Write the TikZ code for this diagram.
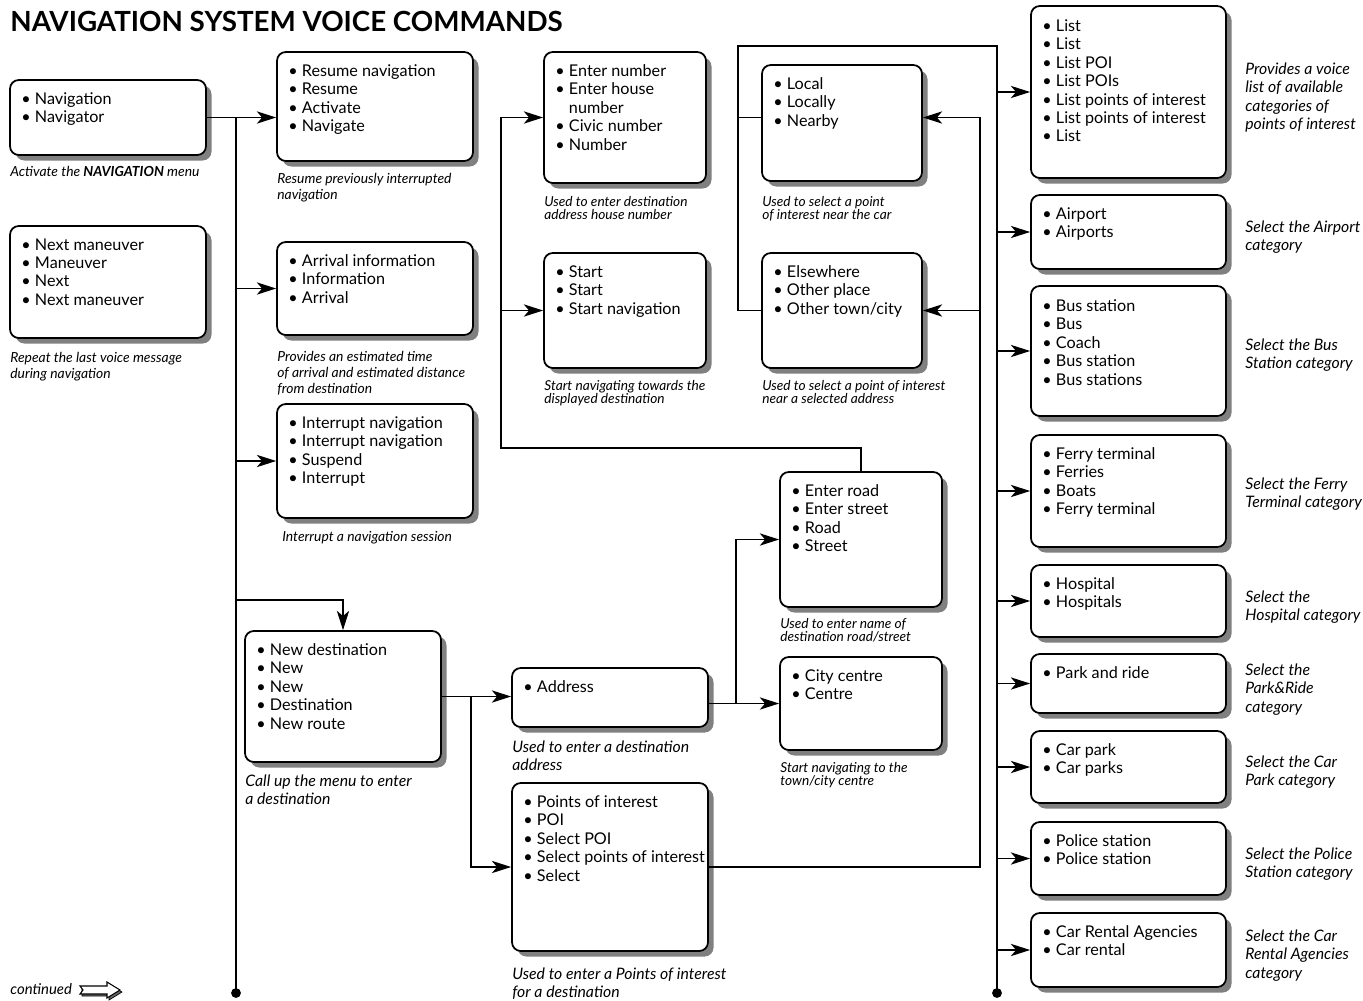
\documentclass[tikz,border=0pt]{standalone}
\usepackage{fontspec}
\setmainfont{Lato}
\usetikzlibrary{arrows.meta,shadows,fit}
\newcommand{\itm}{\textbullet~}

\begin{document}
\begin{tikzpicture}[x=0.02cm, y=-0.02cm,
	box/.style={draw, line width=1pt, rounded corners=5pt, fill=white, inner sep=0pt,
		drop shadow={shadow xshift=0.11cm, shadow yshift=-0.11cm, fill=black!50, opacity=1}},
	items/.style={anchor=north west, inner sep=0pt, align=left, font=\fontsize{9.2}{10.5}\selectfont},
	note/.style={anchor=north west, inner sep=0pt, align=left, font=\fontsize{7.9}{9.1}\selectfont\itshape},
	tight/.style={note, font=\fontsize{7.8}{7.4}\selectfont\itshape},
	bignote/.style={note, font=\fontsize{9}{10.6}\selectfont\itshape},
	wire/.style={line width=0.7pt},
	arr/.style={wire, -{Stealth[length=11pt, width=7pt, inset=3pt]}}]
	\useasboundingbox (0, 0) rectangle (1363, 1001);

	\node [anchor=north west, inner sep=0pt, font=\fontsize{15.8}{18}\selectfont\bfseries] (title) at (10, 11) {NAVIGATION SYSTEM VOICE COMMANDS};

	% left column
	\node [box, fit={(10, 80) (206, 155)}] (nav) {};
	\node [items] (navtxt) at ([shift={(12, 13)}]nav.north west) {\itm Navigation\\\itm Navigator};
	\node [note] (navcap) at (10, 166) {Activate the \textbf{NAVIGATION} menu};
	\node [box, fit={(10, 226) (206, 338)}] (next) {};
	\node [items] (nexttxt) at ([shift={(12, 13)}]next.north west) {\itm Next maneuver\\\itm Maneuver\\\itm Next\\\itm Next maneuver};
	\node [note] (nextcap) at (10, 352) {Repeat the last voice message\\during navigation};

	% second column
	\node [box, fit={(277, 52) (473, 161)}] (resume) {};
	\node [items] (resumetxt) at ([shift={(12, 13)}]resume.north west) {\itm Resume navigation\\\itm Resume\\\itm Activate\\\itm Navigate};
	\node [note] (resumecap) at (277, 173) {Resume previously interrupted\\navigation};
	\node [box, fit={(277, 242) (473, 335)}] (arrival) {};
	\node [items] (arrivaltxt) at ([shift={(12, 13)}]arrival.north west) {\itm Arrival information\\\itm Information\\\itm Arrival};
	\node [note] (arrivalcap) at (277, 351) {Provides an estimated time\\of arrival and estimated distance\\from destination};
	\node [box, fit={(277, 404) (473, 518)}] (interrupt) {};
	\node [items] (interrupttxt) at ([shift={(12, 13)}]interrupt.north west) {\itm Interrupt navigation\\\itm Interrupt navigation\\\itm Suspend\\\itm Interrupt};
	\node [note] (interruptcap) at (282, 531) {Interrupt a navigation session};
	\node [box, fit={(245, 631) (441, 762)}] (newdest) {};
	\node [items] (newdesttxt) at ([shift={(12, 13)}]newdest.north west) {\itm New destination\\\itm New\\\itm New\\\itm Destination\\\itm New route};
	\node [bignote] (newdestcap) at (245, 774) {Call up the menu to enter\\a destination};

	% third column
	\node [box, fit={(544, 52) (706, 183)}] (enter) {};
	\node [items] (entertxt) at ([shift={(12, 13)}]enter.north west) {\itm Enter number\\\itm Enter house\\\phantom{\itm}number\\\itm Civic number\\\itm Number};
	\node [tight] (entercap) at (544, 196) {Used to enter destination\\address house number};
	\node [box, fit={(544, 253) (706, 368)}] (start) {};
	\node [items] (starttxt) at ([shift={(12, 13)}]start.north west) {\itm Start\\\itm Start\\\itm Start navigation};
	\node [tight] (startcap) at (544, 380) {Start navigating towards the\\displayed destination};
	\node [box, fit={(512, 668) (708, 727)}] (address) {};
	\node [items] (addresstxt) at ([shift={(12, 13)}]address.north west) {\itm Address};
	\node [bignote] (addresscap) at (512, 740) {Used to enter a destination\\address};
	\node [box, fit={(512, 783) (708, 951)}] (poi) {};
	\node [items] (poitxt) at ([shift={(12, 13)}]poi.north west) {\itm Points of interest\\\itm POI\\\itm Select POI\\\itm Select points of interest\\\itm Select};
	\node [bignote] (poicap) at (512, 967) {Used to enter a Points of interest\\for a destination};

	% fourth column
	\node [box, fit={(762, 65) (922, 181)}] (local) {};
	\node [items] (localtxt) at ([shift={(12, 13)}]local.north west) {\itm Local\\\itm Locally\\\itm Nearby};
	\node [tight] (localcap) at (762, 196) {Used to select a point\\of interest near the car};
	\node [box, fit={(762, 253) (922, 368)}] (elsewhere) {};
	\node [items] (elsewheretxt) at ([shift={(12, 13)}]elsewhere.north west) {\itm Elsewhere\\\itm Other place\\\itm Other town/city};
	\node [tight] (elsewherecap) at (762, 380) {Used to select a point of interest\\near a selected address};
	\node [box, fit={(780, 472) (942, 607)}] (road) {};
	\node [items] (roadtxt) at ([shift={(12, 13)}]road.north west) {\itm Enter road\\\itm Enter street\\\itm Road\\\itm Street};
	\node [tight] (roadcap) at (780, 618) {Used to enter name of\\destination road/street};
	\node [box, fit={(780, 657) (942, 750)}] (city) {};
	\node [items] (citytxt) at ([shift={(12, 13)}]city.north west) {\itm City centre\\\itm Centre};
	\node [tight] (citycap) at (780, 762) {Start navigating to the\\town/city centre};

	% categories
	\node [box, fit={(1031, 6) (1226, 178)}] (list) {};
	\node [items] (listtxt) at ([shift={(12, 14)}]list.north west) {\itm List\\\itm List\\\itm List POI\\\itm List POIs\\\itm List points of interest\\\itm List points of interest\\\itm List};
	\node [bignote] (listcap) at (1245, 62) {Provides a voice\\list of available\\categories of\\points of interest};
	\node [box, fit={(1031, 195) (1226, 269)}] (airport) {};
	\node [items] (airporttxt) at ([shift={(12, 13)}]airport.north west) {\itm Airport\\\itm Airports};
	\node [bignote] (airportcap) at (1245, 220) {Select the Airport\\category};
	\node [box, fit={(1031, 286) (1226, 416)}] (bus) {};
	\node [items] (bustxt) at ([shift={(12, 14)}]bus.north west) {\itm Bus station\\\itm Bus\\\itm Coach\\\itm Bus station\\\itm Bus stations};
	\node [bignote] (buscap) at (1245, 338) {Select the Bus\\Station category};
	\node [box, fit={(1031, 435) (1226, 547)}] (ferry) {};
	\node [items] (ferrytxt) at ([shift={(12, 13)}]ferry.north west) {\itm Ferry terminal\\\itm Ferries\\\itm Boats\\\itm Ferry terminal};
	\node [bignote] (ferrycap) at (1245, 477) {Select the Ferry\\Terminal category};
	\node [box, fit={(1031, 565) (1226, 637)}] (hospital) {};
	\node [items] (hospitaltxt) at ([shift={(12, 13)}]hospital.north west) {\itm Hospital\\\itm Hospitals};
	\node [bignote] (hospitalcap) at (1245, 590) {Select the\\Hospital category};
	\node [box, fit={(1031, 654) (1226, 713)}] (park) {};
	\node [items] (parktxt) at ([shift={(12, 13)}]park.north west) {\itm Park and ride};
	\node [bignote] (parkcap) at (1245, 663) {Select the\\Park\&Ride\\category};
	\node [box, fit={(1031, 731) (1226, 803)}] (carpark) {};
	\node [items] (carparktxt) at ([shift={(12, 13)}]carpark.north west) {\itm Car park\\\itm Car parks};
	\node [bignote] (carparkcap) at (1245, 755) {Select the Car\\Park category};
	\node [box, fit={(1031, 822) (1226, 895)}] (police) {};
	\node [items] (policetxt) at ([shift={(12, 13)}]police.north west) {\itm Police station\\\itm Police station};
	\node [bignote] (policecap) at (1245, 847) {Select the Police\\Station category};
	\node [box, fit={(1031, 913) (1226, 987)}] (rental) {};
	\node [items] (rentaltxt) at ([shift={(12, 13)}]rental.north west) {\itm Car Rental Agencies\\\itm Car rental};
	\node [bignote] (rentalcap) at (1245, 929) {Select the Car\\Rental Agencies\\category};

	% continued
	\node [note, font=\fontsize{8.5}{9}\selectfont\itshape] (cont) at (10, 983) {continued};
	\draw [fill=black!60] (82, 988) -- (109, 988) -- (109, 984) -- (122, 992) -- (109, 1000) -- (109, 996) -- (82, 996) -- cycle;
	\draw [fill=white, line width=0.6pt] (80, 986) -- (107, 986) -- (107, 982) -- (120, 990) -- (107, 998) -- (107, 994) -- (80, 994) -- (83, 990) -- cycle;

	% left bus
	\coordinate (busl) at (236, 993);
	\coordinate (k1) at (236, 600);
	\draw [wire] (nav.east -| busl) -- (busl);
	\fill (busl) circle (2.8pt);
	\draw [arr] (nav.east) -- (resume.west |- nav.east);
	\draw [arr] (busl |- arrival.west) -- (arrival.west);
	\draw [arr] (busl |- interrupt.west) -- (interrupt.west);
	\draw [arr] (k1) -| (newdest.north);

	% destination branches
	\coordinate (k2) at (471, 697);
	\coordinate (k3) at (736, 704);
	\coordinate (k4) at (501, 448);
	\coordinate (k5) at (980, 867);
	\coordinate (k6) at (738, 46);
	\draw [arr] (newdest.east) -- (address.west |- newdest.east);
	\draw [arr] (newdest.east -| k2) |- (poi.west);
	\draw [arr] (address.east |- city.west) -- (city.west);
	\draw [arr] (k3 |- city.west) |- (road.west);
	\draw [arr] (road.north) |- (k4) |- (enter.west);
	\draw [arr] (k4 |- start.west) -- (start.west);
	\draw [arr] (poi.east) -| (k5 |- enter.west) -- (local.east |- enter.west);
	\draw [arr] (k5 |- elsewhere.east) -- (elsewhere.east);

	% right bus
	\coordinate (busr) at (997, 993);
	\draw [wire] (local.west |- enter.west) -- (enter.west -| k6);
	\draw [wire] (elsewhere.west) -| (k6) -| (busr);
	\fill (busr) circle (2.8pt);
	\draw [arr] (busr |- list.west) -- (list.west);
	\draw [arr] (busr |- airport.west) -- (airport.west);
	\draw [arr] (busr |- bus.west) -- (bus.west);
	\draw [arr] (busr |- ferry.west) -- (ferry.west);
	\draw [arr] (busr |- hospital.west) -- (hospital.west);
	\draw [arr] (busr |- park.west) -- (park.west);
	\draw [arr] (busr |- carpark.west) -- (carpark.west);
	\draw [arr] (busr |- police.west) -- (police.west);
	\draw [arr] (busr |- rental.west) -- (rental.west);
\end{tikzpicture}
\end{document}
